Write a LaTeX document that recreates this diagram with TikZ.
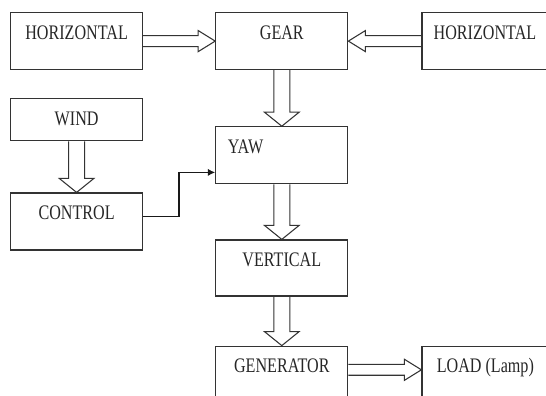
\documentclass[tikz,border=0pt]{standalone}
\usepackage{fontspec}
\setmainfont{Liberation Serif}[FakeStretch=0.78]
\usetikzlibrary{arrows.meta, positioning, calc}
\tikzset{
    block/.style={rectangle, draw=black!80, line width=0.9pt, minimum width=99pt, inner xsep=0pt, inner ysep=0pt, text height=20pt, text depth=22.75pt, text=black!85, font=\fontsize{15.5}{17}\selectfont},
    arrow/.style={-{Latex[length=5.5pt, width=5.5pt]}, line width=1.2pt, black!90},
    hollow/.style n args={3}{draw=black!80, line width=0.8pt, line join=miter, to path={
        ($(\tikztostart)!#1!90:(\tikztotarget)$) -- ($(\tikztotarget)!#3!(\tikztostart)!#1!90:(\tikztotarget)$)
        -- ($(\tikztotarget)!#3!(\tikztostart)!#2!90:(\tikztotarget)$) -- (\tikztotarget)
        -- ($(\tikztotarget)!#3!(\tikztostart)!#2!-90:(\tikztotarget)$) -- ($(\tikztotarget)!#3!(\tikztostart)!#1!-90:(\tikztotarget)$)
        -- ($(\tikztostart)!#1!-90:(\tikztotarget)$)}},
    hollowh/.style={hollow={4.1pt}{7.9pt}{12.75pt}},
    hollowv/.style={hollow={6pt}{13pt}{10.5pt}},
}

\begin{document}
\begin{tikzpicture}[x=0.75pt, y=-0.75pt]
    \useasboundingbox (0,0) rectangle (546,396);
    \clip (0,0) rectangle (546,396);

    % Top row
    \node[block, anchor=north west] (hleft) at (10,12) {HORIZONTAL};
    \node[block, right=54pt of hleft] (gear) {GEAR};
    \node[block, minimum width=94.5pt, right=54.75pt of gear] (hright) {HORIZONTAL};

    % Left column
    \node[block, text depth=11.5pt, below=21pt of hleft] (wind) {WIND};
    \node[block, below=38.25pt of wind] (control) {CONTROL};

    % Middle column
    \node[block, text width=81pt, inner xsep=9pt, align=left, below=42pt of gear] (yaw) {YAW};
    \node[block, text depth=22pt, below=41.25pt of yaw] (vertical) {VERTICAL};
    \node[block, below=36.75pt of vertical] (generator) {GENERATOR};
    \node[block, minimum width=95pt, right=54.75pt of generator] (load) {LOAD (Lamp)};

    % Hollow arrows
    \draw[hollowh] (hleft.east) to (gear.west);
    \draw[hollowh] (hright.west) to (gear.east);
    \draw[hollowv] (gear.south) to (yaw.north);
    \draw[hollowv] (wind.south) to (control.north);
    \draw[hollowv] (yaw.south) to (vertical.north);
    \draw[hollowv] (vertical.south) to (generator.north);
    \draw[hollowh] (generator.mid east) to (load.mid west);

    % Control signal
    \draw[arrow] (control.mid east) -- ++(36,0) |- ([yshift=9pt]yaw.south west);
\end{tikzpicture}
\end{document}
